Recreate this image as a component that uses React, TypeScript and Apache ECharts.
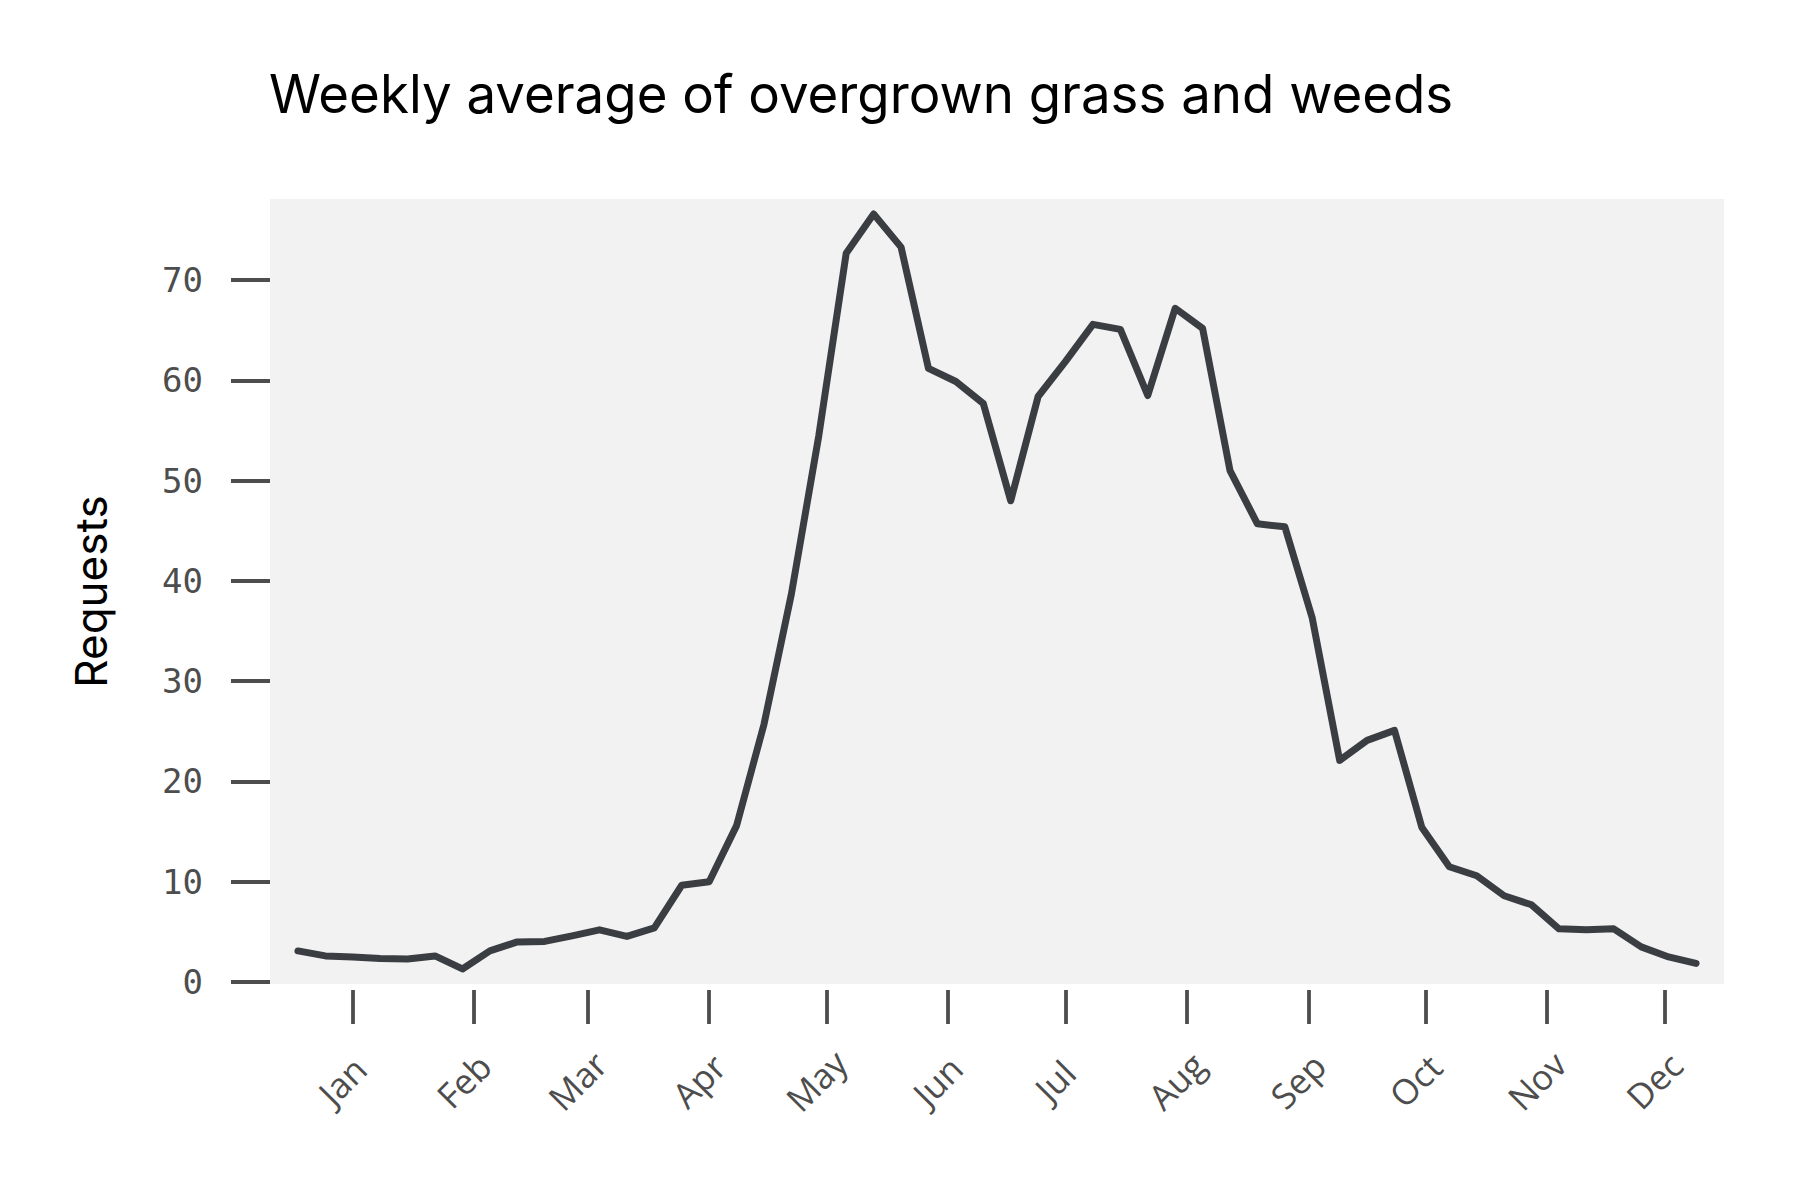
import React, { useEffect, useRef } from "react";
import * as echarts from "echarts";

const MONTHS = ["Jan", "Feb", "Mar", "Apr", "May", "Jun", "Jul", "Aug", "Sep", "Oct", "Nov", "Dec"];
// day offsets (from first weekly point) where month ticks sit (mid-month)
const MONTH_TICK_DAYS = [14, 45, 74, 105, 135, 166, 196, 227, 258, 288, 319, 349];
const Y_TICKS = [0, 10, 20, 30, 40, 50, 60, 70];
// weekly average requests, 52 weeks
const REQUESTS = [
  3.1, 2.6, 2.5, 2.35, 2.3, 2.6, 1.3, 3.1, 4.0, 4.05,
  4.6, 5.2, 4.55, 5.4, 9.65, 10.0, 15.6, 25.7, 38.7, 54.5,
  72.7, 76.6, 73.3, 61.2, 59.9, 57.7, 48.0, 58.4, 61.9, 65.6,
  65.1, 58.5, 67.2, 65.2, 51.0, 45.7, 45.4, 36.3, 22.1, 24.1,
  25.1, 15.4, 11.5, 10.6, 8.6, 7.7, 5.3, 5.2, 5.3, 3.5,
  2.5, 1.85,
];
const WEEK_DAYS = REQUESTS.map((_, i) => i * 7);

export default function App() {
  const ref = useRef<HTMLDivElement>(null);
  useEffect(() => {
    if (!ref.current) return;
    const chart = echarts.init(ref.current, null, { renderer: "svg" });
    const tickColor = "#4d4d4d";
    chart.setOption({
      animation: false,
      backgroundColor: "#ffffff",
      title: {
        text: "Weekly average of overgrown grass and weeds",
        left: 264,
        top: 62,
        textStyle: { fontSize: 52.8, fontWeight: "normal", fontFamily: "Inter", color: "#000" },
      },
      grid: {
        left: 270,
        top: 199,
        right: 76,
        bottom: 216,
        show: true,
        backgroundColor: "#f2f2f2",
        borderWidth: 0,
      },
      xAxis: {
        type: "value",
        min: -7.14,
        max: 364.14,
        offset: 6,
        axisLine: { show: false, onZero: false },
        splitLine: { show: false },
        axisTick: {
          show: true,
          customValues: MONTH_TICK_DAYS,
          length: 34,
          lineStyle: { color: tickColor, width: 3.8 },
        },
        axisLabel: {
          customValues: MONTH_TICK_DAYS,
          formatter: (v: number) => MONTHS[MONTH_TICK_DAYS.indexOf(Math.round(v))] ?? "",
          rotate: 45,
          align: "center",
          verticalAlign: "middle",
          padding: [0, 30, 0, 0],
          margin: 80,
          fontSize: 35,
          fontFamily: "Open Sans",
          color: tickColor,
        },
      },
      yAxis: {
        type: "value",
        min: -0.2,
        max: 78.1,
        name: "Requests",
        nameLocation: "middle",
        nameRotate: 90,
        nameGap: 157,
        nameTextStyle: { fontSize: 44, fontFamily: "Inter", color: "#000" },
        axisLine: { show: false, onZero: false },
        splitLine: { show: false },
        axisTick: {
          show: true,
          customValues: Y_TICKS,
          length: 39,
          lineStyle: { color: tickColor, width: 3.8 },
        },
        axisLabel: {
          customValues: Y_TICKS,
          margin: 67,
          fontSize: 34,
          fontFamily: "DejaVu Sans Mono",
          color: tickColor,
        },
      },
      series: [
        {
          type: "line",
          data: WEEK_DAYS.map((d, i) => [d, REQUESTS[i]]),
          symbol: "none",
          lineStyle: { color: "#3a3e43", width: 7, cap: "round", join: "round" },
        },
      ],
    });
    return () => chart.dispose();
  }, []);
  return (
    <div
      ref={ref}
      style={{ position: "absolute", left: 0, top: 0, width: 1800, height: 1200 }}
    />
  );
}
